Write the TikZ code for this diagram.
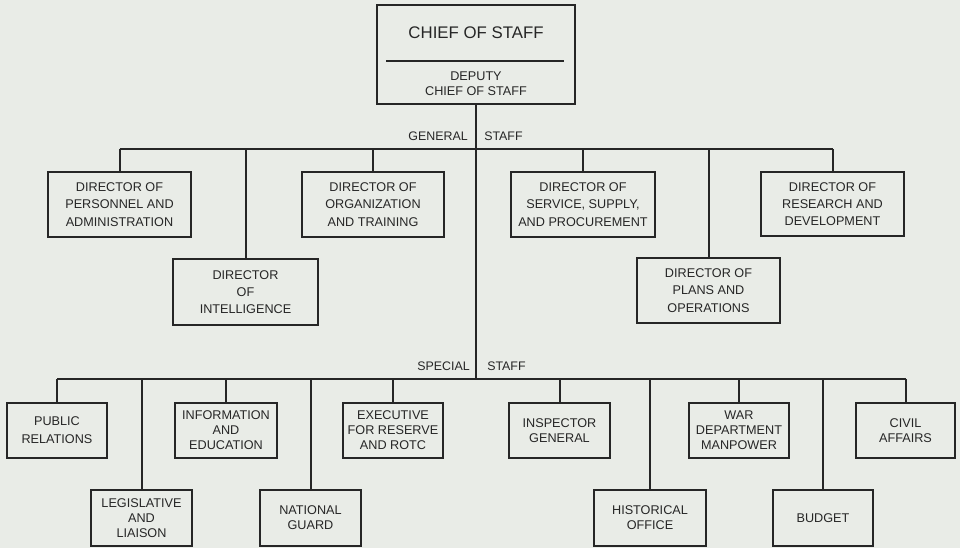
\documentclass[tikz,border=0pt]{standalone}
\usepackage{fontspec}
\setmainfont{Liberation Sans}
\definecolor{bg}{RGB}{233,236,231}
\definecolor{ink}{RGB}{38,38,38}
\newlength\pu
\setlength\pu{0.75pt}
\begin{document}
\begin{tikzpicture}[x=0.75pt,y=-0.75pt,
  box/.style n args={2}{draw=ink, line width=1.1pt, align=center, inner sep=0pt,
    text=ink, font=\fontsize{9.5}{13}\selectfont,
    minimum width=#1*\pu, minimum height=#2*\pu},
  sbox/.style n args={2}{box={#1}{#2}, font=\fontsize{9.5}{11.3}\selectfont},
  txt/.style={text=ink, inner sep=0pt, align=center, font=\fontsize{9.5}{11}\selectfont},
  lbl/.style={text=ink, inner sep=0pt, font=\fontsize{9.3}{11}\selectfont},
  conn/.style={draw=ink, line width=1.5pt},
  rule/.style={draw=ink, line width=1pt}]
\fill[bg] (0,0) rectangle (960,548);
\useasboundingbox (0,0) rectangle (960,548);

% top box
\node[box={198}{99}] (chief) at (476,54.5) {};
\node[txt, font=\fontsize{12.6}{14}\selectfont] (title) at (476,33) {CHIEF OF STAFF};
\node[txt] (deputy) at (476,84) {DEPUTY\\CHIEF OF STAFF};
\draw[rule] (386,61) -- (564,61);

\coordinate (gb) at (0,149);
\coordinate (sb) at (0,379);

\node[lbl, anchor=east] (genl) at (468,136) {GENERAL};
\node[lbl, anchor=west] (gens) at (484,136) {STAFF};
\node[lbl, anchor=east] (spl) at (470,366) {SPECIAL};
\node[lbl, anchor=west] (sps) at (487,366) {STAFF};

% general staff
\node[box={143}{65}] (pers) at (119.5,204.5) {DIRECTOR OF\\PERSONNEL AND\\ADMINISTRATION};
\node[box={145}{66}] (intel) at (245.5,292) {DIRECTOR\\OF\\INTELLIGENCE};
\node[box={142}{65}] (org) at (373,204.5) {DIRECTOR OF\\ORGANIZATION\\AND TRAINING};
\node[box={144}{65}] (serv) at (583,204.5) {DIRECTOR OF\\SERVICE, SUPPLY,\\AND PROCUREMENT};
\node[box={143}{65}] (plans) at (708.5,290.5) {DIRECTOR OF\\PLANS AND\\OPERATIONS};
\node[box={143}{64}] (res) at (832.5,204) {DIRECTOR OF\\RESEARCH AND\\DEVELOPMENT};

% special staff
\node[sbox={100}{55}, font=\fontsize{9.5}{13.5}\selectfont] (pr) at (57,430.5) {PUBLIC\\RELATIONS};
\node[sbox={101}{56}] (leg) at (141.5,518) {LEGISLATIVE\\AND\\LIAISON};
\node[sbox={102}{55}] (info) at (226,430.5) {INFORMATION\\AND\\EDUCATION};
\node[sbox={101}{56}] (ng) at (310.5,518) {NATIONAL\\GUARD};
\node[sbox={100}{55}] (exec) at (393,430.5) {EXECUTIVE\\FOR RESERVE\\AND ROTC};
\node[sbox={101}{55}] (insp) at (559.5,430.5) {INSPECTOR\\GENERAL};
\node[sbox={112}{56}] (hist) at (650,518) {HISTORICAL\\OFFICE};
\node[sbox={100}{55}] (war) at (739,430.5) {WAR\\DEPARTMENT\\MANPOWER};
\node[sbox={100}{56}] (bud) at (823,518) {BUDGET};
\node[sbox={99}{55}] (civ) at (905.5,430.5) {CIVIL\\AFFAIRS};

% connectors
\draw[conn] (chief.south) -- (chief.south |- sb);
\draw[conn] (pers.north |- gb) -- (res.north |- gb);
\foreach \n in {pers,intel,org,serv,plans,res}
  \draw[conn] (\n.north) -- (\n.north |- gb);
\draw[conn] (pr.north |- sb) -- (civ.north |- sb);
\foreach \n in {pr,leg,info,ng,exec,insp,hist,war,bud,civ}
  \draw[conn] (\n.north) -- (\n.north |- sb);
\end{tikzpicture}
\end{document}
